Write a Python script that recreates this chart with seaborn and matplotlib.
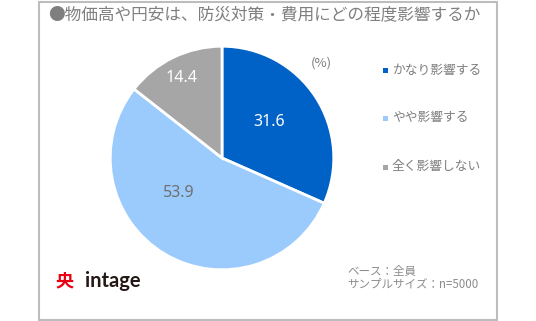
import matplotlib
matplotlib.use("Agg")
import matplotlib.pyplot as plt
import seaborn as sns
import numpy as np
from matplotlib.patches import Rectangle

sns.set_theme(style="white")
plt.rcParams['font.family'] = ['Noto Sans CJK JP', 'DejaVu Sans']

categories = ["かなり影響する", "やや影響する", "全く影響しない"]
values = [31.6, 53.9, 14.4]
colors = ["#0062C6", "#9BCBFC", "#A6A6A6"]
label_colors = ["white", "#707070", "white"]
# label placement (radial distance, angle in degrees) per slice
label_layout = [(0.53, 37), (0.50, -141), (0.80, 117)]

W, H = 536, 321
fig = plt.figure(figsize=(W / 100, H / 100), dpi=100)
fig.patch.set_facecolor("white")

fig.patches.append(Rectangle((39 / W, 1 / H), (497 - 39) / W, (319 - 1) / H,
                             transform=fig.transFigure, fill=False,
                             edgecolor="#BDBDBD", linewidth=1.5))

cx, cy, r = 222, 158, 114
ax = fig.add_axes([(cx - r) / W, (H - cy - r) / H, 2 * r / W, 2 * r / H])
wedges, _ = ax.pie(values, colors=colors, startangle=90, counterclock=False,
                   wedgeprops=dict(edgecolor="white", linewidth=2))
for v, c, (d, ang) in zip(values, label_colors, label_layout):
    a = np.deg2rad(ang)
    ax.text(d * np.cos(a), d * np.sin(a), f"{v:.1f}", color=c, fontsize=11.5,
            ha="center", va="center", family=["Noto Sans", "DejaVu Sans"])
ax.set_xlim(-1.02, 1.02)
ax.set_ylim(-1.02, 1.02)
ax.set_aspect("equal")
ax.axis("off")

fig.text(48 / W, 1 - 15 / H, "●物価高や円安は、防災対策・費用にどの程度影響するか",
         fontsize=12, color="#7F7F7F", va="center", ha="left")
fig.text(321 / W, 1 - 63 / H, "(%)", fontsize=9.5, color="#7F7F7F", va="center", ha="center")

leg_y = [70, 118, 167]
for cat, col, y in zip(categories, colors, leg_y):
    fig.patches.append(Rectangle((383 / W, 1 - (y + 2.5) / H), 5 / W, 5 / H,
                                 transform=fig.transFigure, facecolor=col, edgecolor="none"))
    fig.text(392 / W, 1 - y / H, cat, fontsize=9.2, color="#7F7F7F", va="center", ha="left")

fig.text(347 / W, 1 - 272 / H, "ベース：全員", fontsize=8.3, color="#8C8C8C", va="center", ha="left")
fig.text(347 / W, 1 - 284 / H, "サンプルサイズ：n=5000", fontsize=8.3, color="#8C8C8C", va="center", ha="left")

fig.text(55 / W, 1 - 281 / H, "央", fontsize=13, color="#E60012", va="center", ha="left",
         fontweight="bold")
fig.text(85 / W, 1 - 281 / H, "intage", fontsize=14.5, color="#231815", va="center", ha="left",
         fontweight="bold", family=["Lato", "DejaVu Sans"])

fig.savefig("out.png", dpi=100, facecolor="white")
